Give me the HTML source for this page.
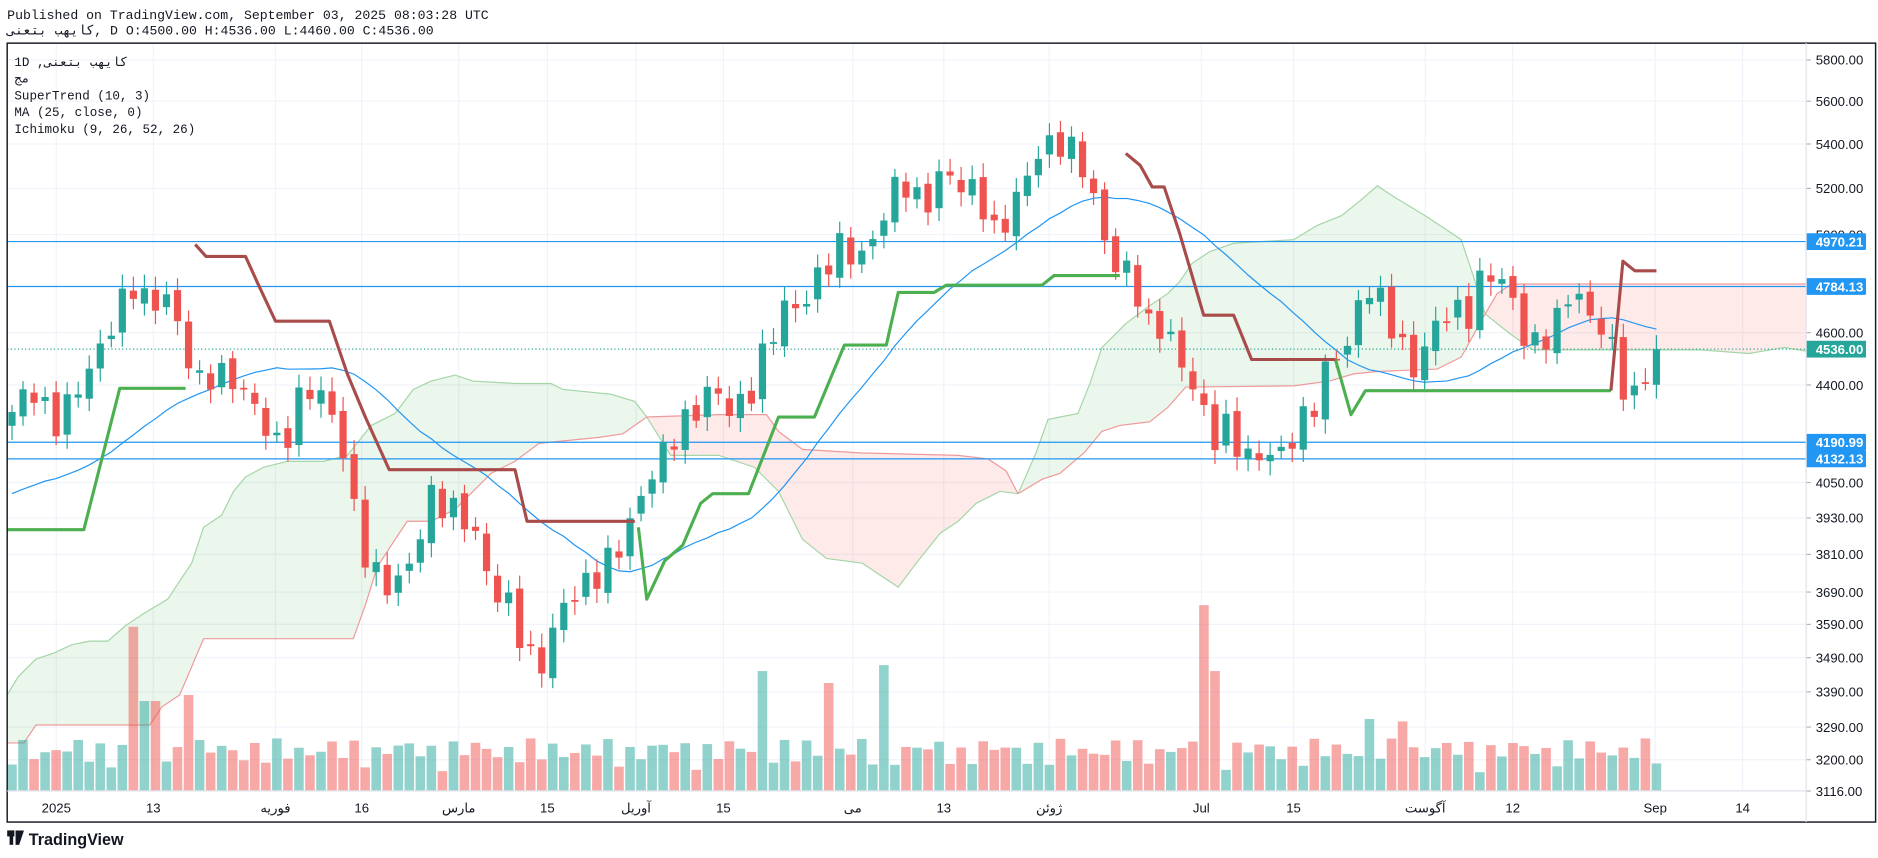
<!DOCTYPE html>
<html><head><meta charset="utf-8"><style>
html,body{margin:0;padding:0;background:#fff;}
svg{display:block}
text{font-family:"Liberation Mono","DejaVu Sans Mono","Noto Sans CJK SC",monospace;}
.ax{font-family:"Liberation Sans","DejaVu Sans",sans-serif;font-size:11px;fill:#131722}
</style></head><body>
<svg id="s" width="1878" height="858" viewBox="0 0 1568 716" preserveAspectRatio="none" xmlns="http://www.w3.org/2000/svg">
<rect width="1568" height="716" fill="#fff"/>
<g id="grid" stroke="#f0f3fa" stroke-width="1"></g>
<g id="cloud"></g>
<g id="vol"></g>
<g id="lines"></g>
<g id="candles"></g>
<g id="st" fill="none" stroke-width="2.6" stroke-linejoin="round"></g>
<g id="axis"></g>
<rect x="6" y="36" width="1560" height="650" fill="none" stroke="#131722" stroke-width="1.2"/>
<line x1="1508" y1="36" x2="1508" y2="686" stroke="#e0e3eb"/>
<line x1="6" y1="660" x2="1508" y2="660" stroke="#e0e3eb"/>
<text x="6" y="16" font-size="11" fill="#131722">Published on TradingView.com, September 03, 2025 08:03:28 UTC</text>
<text x="6" y="29" font-size="11" fill="#131722">كايهب بتعنى, D O:4500.00 H:4536.00 L:4460.00 C:4536.00</text>
<text x="12" y="55" font-size="10.5" fill="#131722">1D ,كايهب بتعنى</text>
<text x="12" y="69" font-size="10.5" fill="#131722">مج</text>
<text x="12" y="83" font-size="10.5" fill="#131722">SuperTrend (10, 3)</text>
<text x="12" y="97" font-size="10.5" fill="#131722">MA (25, close, 0)</text>
<text x="12" y="111" font-size="10.5" fill="#131722">Ichimoku (9, 26, 52, 26)</text>
<g font-family="Liberation Sans, sans-serif">
<rect x="6" y="693" width="6" height="5" fill="#131722"/><rect x="8" y="693" width="3" height="12" fill="#131722"/>
<path d="M13 693 L20 693 L16 705 L13 705 Z" fill="#131722"/>
<text x="24" y="705" font-size="13.5" font-weight="bold" fill="#131722" style="font-family:'Liberation Sans',sans-serif">TradingView</text>
</g>
</svg>
<script>
const NS="http://www.w3.org/2000/svg";
function el(p,t,a){const e=document.createElementNS(NS,t);for(const k in a)e.setAttribute(k,a[k]);p.appendChild(e);return e;}
const Y=p=>50+(8.6656-Math.log(p))*982;
const G=id=>document.getElementById(id);
// grid
const vx=[47,128,230,302,383,457,531,604,712,788,876,1003,1080,1190,1263,1382,1455];
vx.forEach(x=>el(G('grid'),'line',{x1:x,y1:36,x2:x,y2:660}));
const ticks=[5800,5600,5400,5200,5000,4600,4400,4050,3930,3810,3690,3590,3490,3390,3290,3200,3116];
ticks.forEach(p=>{el(G('grid'),'line',{x1:6,y1:Y(p),x2:1508,y2:Y(p)});});
ticks.forEach(p=>{const t=el(G('axis'),'text',{x:1516,y:Y(p)+4,class:'ax'});t.textContent=p.toFixed(2);el(G('axis'),'line',{x1:1508,y1:Y(p),x2:1512,y2:Y(p),stroke:'#b2b5be'})});
const xl=[[47,'2025'],[128,'13'],[230,'فوریه'],[302,'16'],[383,'مارس'],[457,'15'],[531,'آوریل'],[604,'15'],[712,'می'],[788,'13'],[876,'ژوئن'],[1003,'Jul'],[1080,'15'],[1190,'آگوست'],[1263,'12'],[1382,'Sep'],[1455,'14']];
xl.forEach(([x,s])=>{const t=el(G('axis'),'text',{x:x,y:678,class:'ax','text-anchor':'middle'});t.textContent=s;});
// cloud
function pts(a){return a.map(p=>p.join(',')).join(' ');}
function poly(up,lo,fill){el(G('cloud'),'polygon',{points:pts(up.concat(lo.slice().reverse())),fill:fill});}
const gA1=[[6,580],[15,565],[30,550],[45,545],[60,538],[75,535],[90,535],[105,522],[120,512],[140,500],[150,485],[160,470],[170,440],[185,430],[195,410],[205,398],[220,390],[240,385],[270,385],[290,380],[310,355],[330,345],[345,325],[360,318],[380,313],[395,318],[430,320],[460,320],[470,325],[510,329],[530,335],[540,348]];
const rB1=[[6,620],[20,620],[30,605],[125,605],[135,590],[150,580],[170,533],[295,533],[305,505],[315,473],[330,450],[340,435],[360,435],[380,425],[395,410],[410,395],[430,385],[450,370],[500,365],[520,362],[540,348]];
const rB2=[[540,348],[600,346],[640,346],[650,360],[670,375],[720,378],[800,380],[825,383],[840,393],[850,412]];
const gA2=[[540,348],[560,380],[600,380],[630,390],[650,410],[670,450],[690,466],[720,470],[735,480],[750,490],[765,470],[785,445],[800,435],[815,420],[835,410],[850,412]];
const gA3=[[850,412],[865,378],[875,350],[900,345],[910,320],[920,290],[940,270],[960,255],[975,245],[985,235],[995,220],[1010,210],[1030,203],[1080,200],[1100,188],[1120,180],[1135,168],[1150,155],[1165,165],[1190,180],[1205,190],[1220,200],[1230,230],[1240,262]];
const rB3=[[850,412],[870,400],[885,395],[905,378],[920,360],[935,355],[960,352],[975,340],[990,323],[1080,322],[1110,318],[1130,312],[1150,310],[1200,308],[1220,298],[1230,280],[1240,262]];
const rB4=[[1240,262],[1250,245],[1262,237],[1508,237]];
const gA4=[[1240,262],[1260,278],[1280,292],[1340,292],[1420,292],[1460,295],[1490,290],[1508,293]];
poly(gA1,rB1,'rgba(76,175,80,0.11)');poly(rB2,gA2,'rgba(244,67,54,0.11)');poly(gA3,rB3,'rgba(76,175,80,0.11)');poly(rB4,gA4,'rgba(244,67,54,0.11)');
[gA1,gA2,gA3,gA4].forEach(a=>el(G('cloud'),'polyline',{points:pts(a),fill:'none',stroke:'#a5d6a7','stroke-width':1}));
[rB1,rB2,rB3,rB4].forEach(a=>el(G('cloud'),'polyline',{points:pts(a),fill:'none',stroke:'#ef9a9a','stroke-width':1}));
// horizontal lines
[[4970.21,'4970.21'],[4784.13,'4784.13'],[4190.99,'4190.99'],[4132.13,'4132.13']].forEach(([p,s])=>{const y=Y(p);el(G('lines'),'line',{x1:6,y1:y,x2:1508,y2:y,stroke:'#2196f3','stroke-width':1});el(G('axis'),'rect',{x:1508,y:y-7,width:50,height:14,fill:'#2196f3',rx:1});const t=el(G('axis'),'text',{x:1516,y:y+4,class:'ax',fill:'#fff','font-weight':'bold'});t.setAttribute('style','fill:#fff');t.textContent=s;});
const yc=Y(4536);el(G('lines'),'line',{x1:6,y1:yc,x2:1508,y2:yc,stroke:'#26a69a','stroke-width':1,'stroke-dasharray':'1,2'});
el(G('axis'),'rect',{x:1508,y:yc-7,width:50,height:14,fill:'#26a69a'});{const t=el(G('axis'),'text',{x:1516,y:yc+4,class:'ax','font-weight':'bold',style:'fill:#fff'});t.textContent='4536.00';}
// candles
const kp=[[10,4300],[25,4400],[45,4250],[60,4350],[80,4500],[100,4700],[110,4800],[125,4700],[140,4750],[150,4600],[165,4400],[180,4450],[200,4400],[215,4300],[235,4150],[250,4350],[265,4400],[285,4200],[300,3850],[320,3700],[340,3750],[360,4000],[380,3950],[395,3900],[410,3700],[425,3650],[440,3500],[450,3450],[470,3650],[485,3700],[500,3750],[520,3850],[540,4050],[560,4200],[580,4300],[595,4400],[610,4300],[625,4350],[640,4550],[655,4700],[670,4700],[680,4800],[700,4950],[720,4900],[740,5100],[750,5250],[760,5200],[770,5100],[790,5300],[800,5200],[815,5200],[830,5000],[845,5100],[860,5300],[875,5400],[890,5400],[905,5300],[915,5100],[925,4950],[935,4800],[945,4900],[955,4600],[965,4650],[980,4550],[990,4450],[1000,4350],[1015,4200],[1025,4250],[1040,4130],[1055,4150],[1070,4150],[1085,4250],[1100,4350],[1110,4500],[1125,4550],[1140,4800],[1150,4750],[1165,4600],[1180,4450],[1195,4600],[1210,4700],[1225,4650],[1235,4800],[1250,4850],[1265,4700],[1275,4550],[1285,4550],[1300,4650],[1315,4800],[1325,4650],[1335,4650],[1345,4550],[1355,4400],[1365,4350],[1375,4450],[1383,4536]];
function interp(x){for(let i=1;i<kp.length;i++){if(x<=kp[i][0]){const a=kp[i-1],b=kp[i];return a[1]+(b[1]-a[1])*(x-a[0])/(b[0]-a[0]);}}return kp[kp.length-1][1];}
const N=150,dx=(1383-10)/(N-1);let prev=4250;const closes=[];
const spikes={108:137,118:75,128:75,155:80,640:100,693:90,740:105,1006:155,1016:100,1140:60,1170:58};
for(let i=0;i<N;i++){const x=10+i*dx;let c=interp(x)*(1+0.012*Math.sin(i*2.7)*(i<N-1?1:0));const o=prev*(1+0.004*Math.sin(i*5.1));
const hi=Math.max(o,c)*(1+0.006+0.006*Math.abs(Math.sin(i*3.3))),lo=Math.min(o,c)*(1-0.006-0.006*Math.abs(Math.cos(i*1.9)));
const up=c>=o,col=up?'#26a69a':'#ef5350';
el(G('candles'),'line',{x1:x,y1:Y(hi),x2:x,y2:Y(lo),stroke:col,'stroke-width':1});
const yt=Y(Math.max(o,c)),yb=Y(Math.min(o,c));el(G('candles'),'rect',{x:x-3,y:yt,width:6,height:Math.max(1.5,yb-yt),fill:col});
let h=14+22*Math.abs(Math.sin(i*1.37))+8*Math.abs(Math.cos(i*0.53));for(const k in spikes){if(Math.abs(k-x)<dx/2)h=spikes[k];}
el(G('vol'),'rect',{x:x-4,y:660-h,width:8,height:h,fill:up?'rgba(38,166,154,0.5)':'rgba(239,83,80,0.5)'});
closes.push(c);prev=c;}
// MA
const ma=[];for(let i=0;i<N;i++){let s=0;for(let j=i-24;j<=i;j++)s+=(j<0?4000:closes[j]);ma.push([10+i*dx,Y(s/25)]);}
el(G('lines'),'polyline',{points:pts(ma.map(p=>[p[0].toFixed(1),p[1].toFixed(1)])),fill:'none',stroke:'#2196f3','stroke-width':1});
// supertrend
const g1=[[6,442],[70,442],[100,324],[155,324]],r1=[[163,204],[172,214],[205,214],[215,236],[230,268],[275,268],[290,312],[305,348],[325,392],[430,392],[440,435],[530,435]];
const g2=[[533,440],[540,500],[555,468],[570,455],[585,420],[595,412],[625,412],[650,348],[680,348],[705,288],[740,288],[750,244],[780,244],[790,238],[870,238],[880,230],[935,230]];
const r2=[[940,128],[952,138],[962,156],[972,156],[985,195],[1005,263],[1030,263],[1045,300],[1115,300]];
const g3=[[1115,300],[1128,346],[1140,326],[1345,326]],r3=[[1345,326],[1355,218],[1365,226],[1383,226]];
[g1,g2,g3].forEach(a=>el(G('st'),'polyline',{points:pts(a),stroke:'#4caf50'}));
[r1,r2,r3].forEach(a=>el(G('st'),'polyline',{points:pts(a),stroke:'#a84b4b'}));
</script>
</body></html>
